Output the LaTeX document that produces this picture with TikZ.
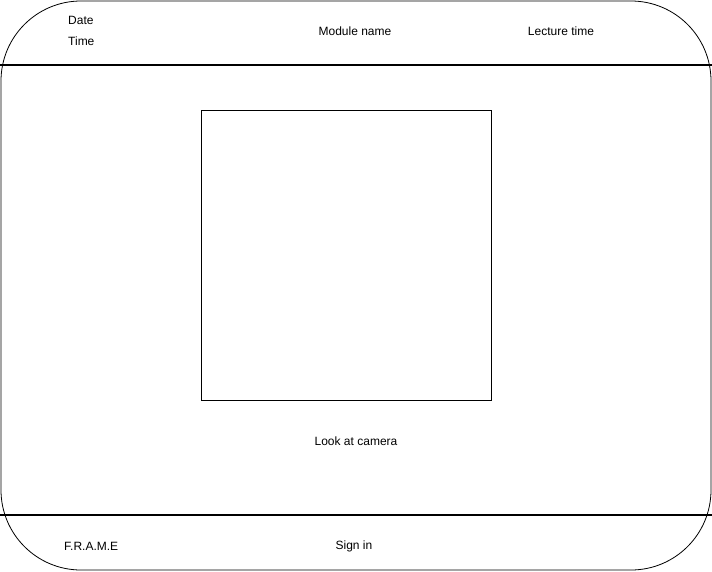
\documentclass[tikz,border=0pt]{standalone}
\usepackage{fontspec}
\setmainfont{Liberation Sans}
\tikzset{
  label/.style = {font=\fontsize{12pt}{14pt}\selectfont, inner sep=0pt},
  bar/.style = {line width=1.6pt}
}
\begin{document}
\begin{tikzpicture}[x=1pt, y=-1pt]
\useasboundingbox (0,0) rectangle (712,571);
\draw [line width=0.8pt, rounded corners=80pt] (1,1) rectangle (711,570);
\draw [bar] (0,65) -- (712,65);
\draw [bar] (0,515) -- (712,515);
\draw [line width=0.8pt] (201,110) rectangle (491,400);
\node [label, anchor=west] (date) at (68,20) {Date};
\node [label, anchor=west] (time) at (68,41) {Time};
\node [label] (module) at (355,31) {Module name};
\node [label] (lecture) at (561,31) {Lecture time};
\node [label] (look) at (356,441) {Look at camera};
\node [label, anchor=west] (frame) at (64,546) {F.R.A.M.E};
\node [label] (signin) at (354,546) {Sign in};
\end{tikzpicture}
\end{document}
